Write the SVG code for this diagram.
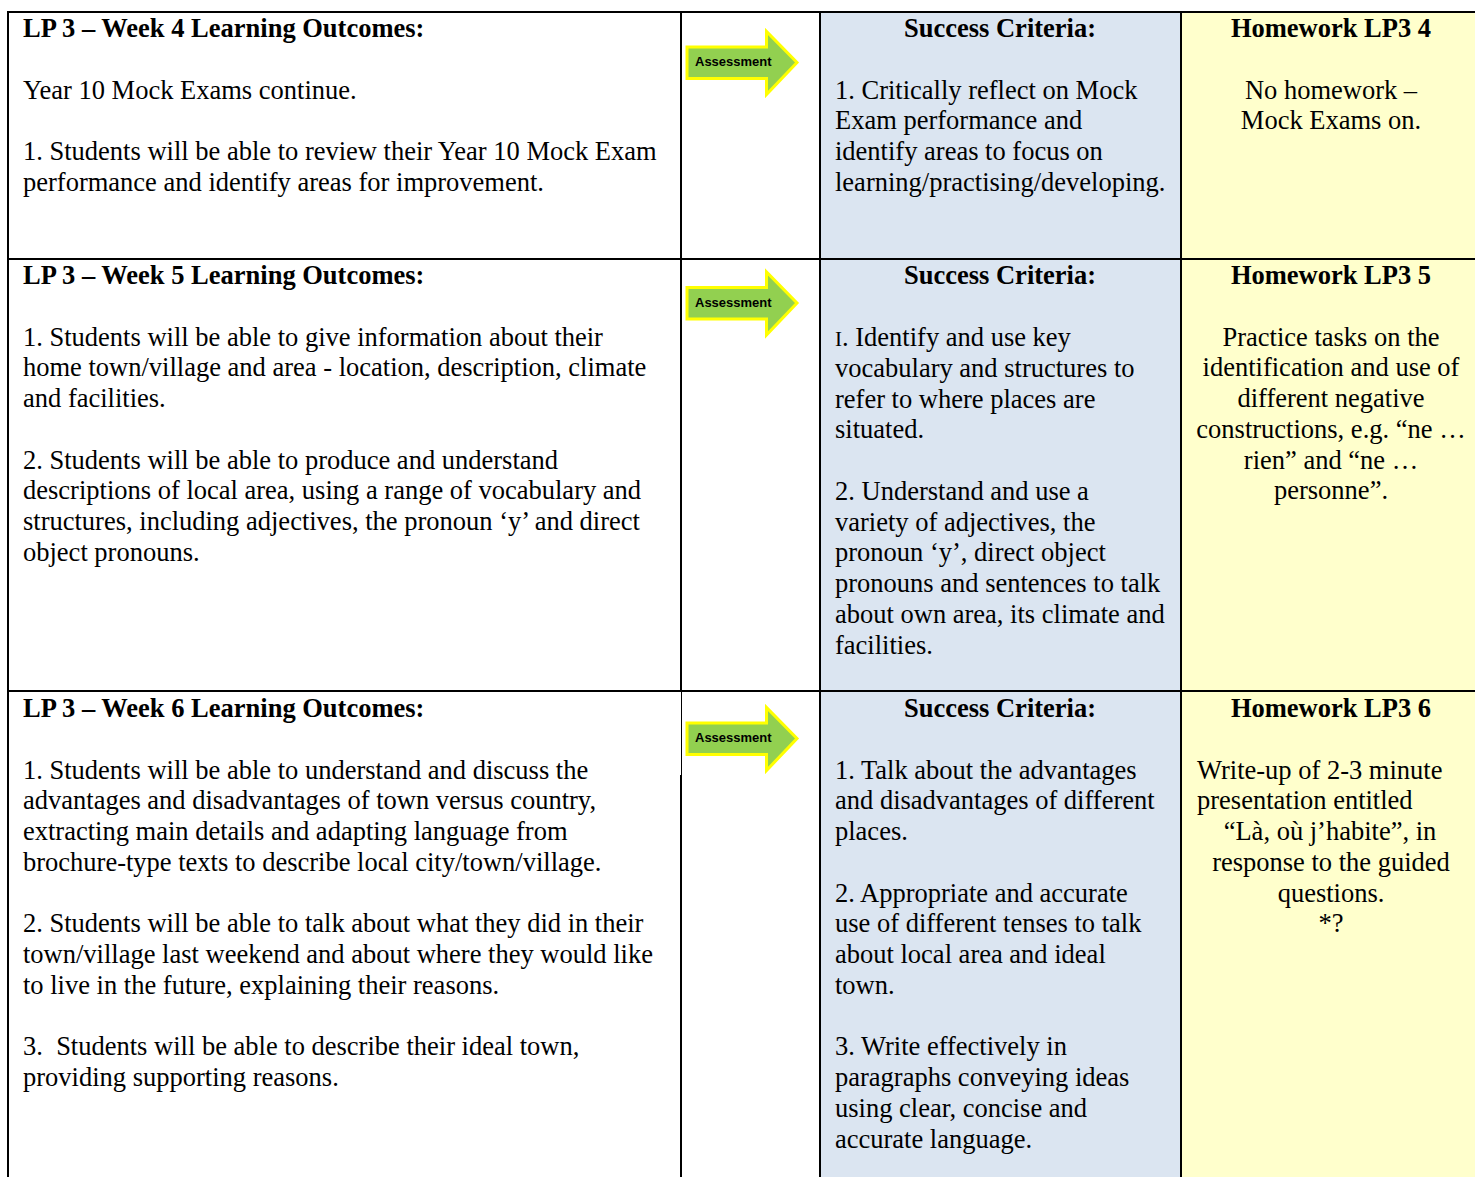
<svg xmlns="http://www.w3.org/2000/svg" xmlns:xlink="http://www.w3.org/1999/xlink" width="1475" height="1177" viewBox="0 0 1475 1177">
<style>
.t{font-family:"Liberation Serif","Times New Roman",serif;font-size:26.5px;fill:#000;white-space:pre}
.b{font-weight:bold}
.m{text-anchor:middle}
.ln{stroke:#000;stroke-width:2;fill:none}
.ln1{stroke:#000;stroke-width:1;fill:none}
.arw{fill:#92D050;stroke:#FFFF00;stroke-width:3;stroke-linejoin:miter}
.al{font-family:"Liberation Sans",Arial,sans-serif;font-size:13px;font-weight:bold;fill:#000}
</style>
<defs>
<path id="arrowShape" d="M-110,-15.5 L-30.5,-15.5 L-30.5,-31 L0,0 L-30.5,32 L-30.5,16 L-110,16 Z"/>
</defs>
<rect width="1475" height="1177" fill="#fff"/>
<g id="fills">
<rect x="820" y="12" width="361" height="1165" fill="#DBE5F1"/>
<rect x="1181" y="12" width="294" height="1165" fill="#FFFFCC"/>
</g>
<g id="grid">
<line class="ln" x1="7" y1="12" x2="1475" y2="12"/>
<line class="ln" x1="8" y1="11" x2="8" y2="1177"/>
<line class="ln" x1="681" y1="11" x2="681" y2="691"/>
<line class="ln1" x1="681.5" y1="691" x2="681.5" y2="775"/>
<line class="ln" x1="681" y1="775" x2="681" y2="1177"/>
<line class="ln" x1="820" y1="11" x2="820" y2="1177"/>
<line class="ln" x1="1181" y1="11" x2="1181" y2="1177"/>
<line class="ln" x1="7" y1="259" x2="1475" y2="259"/>
<line class="ln" x1="7" y1="691" x2="1475" y2="691"/>
</g>
<g id="connectors">
<g id="arrow-week4">
<use xlink:href="#arrowShape" href="#arrowShape" class="arw" transform="translate(797,62.5)"/>
<text class="al" x="695" y="66">Assessment</text>
</g>
<g id="arrow-week5">
<use xlink:href="#arrowShape" href="#arrowShape" class="arw" transform="translate(797,303)"/>
<text class="al" x="695" y="306.5">Assessment</text>
</g>
<g id="arrow-week6">
<use xlink:href="#arrowShape" href="#arrowShape" class="arw" transform="translate(797,738.5)"/>
<text class="al" x="695" y="742">Assessment</text>
</g>
</g>
<g id="week4-outcomes">
<text class="t b" x="23" y="37">LP 3 – Week 4 Learning Outcomes:</text>
<text class="t" x="23" y="98.5">Year 10 Mock Exams continue.</text>
<text class="t" x="23" y="160">1. Students will be able to review their Year 10 Mock Exam</text>
<text class="t" x="23" y="190.75">performance and identify areas for improvement.</text>
</g>
<g id="week4-criteria">
<text class="t b m" x="1000" y="37">Success Criteria:</text>
<text class="t" x="835" y="98.5">1. Critically reflect on Mock</text>
<text class="t" x="835" y="129.25">Exam performance and</text>
<text class="t" x="835" y="160">identify areas to focus on</text>
<text class="t" x="835" y="190.75">learning/practising/developing.</text>
</g>
<g id="week4-homework">
<text class="t b m" x="1331" y="37">Homework LP3 4</text>
<text class="t m" x="1331" y="98.5">No homework –</text>
<text class="t m" x="1331" y="129.25">Mock Exams on.</text>
</g>
<g id="week5-outcomes">
<text class="t b" x="23" y="284">LP 3 – Week 5 Learning Outcomes:</text>
<text class="t" x="23" y="345.5">1. Students will be able to give information about their</text>
<text class="t" x="23" y="376.25">home town/village and area - location, description, climate</text>
<text class="t" x="23" y="407">and facilities.</text>
<text class="t" x="23" y="468.5">2. Students will be able to produce and understand</text>
<text class="t" x="23" y="499.25">descriptions of local area, using a range of vocabulary and</text>
<text class="t" x="23" y="530">structures, including adjectives, the pronoun ‘y’ and direct</text>
<text class="t" x="23" y="560.75">object pronouns.</text>
</g>
<g id="week5-criteria">
<text class="t b m" x="1000" y="284">Success Criteria:</text>
<text class="t" x="835" y="346"><tspan font-size="21">I</tspan>. Identify and use key</text>
<text class="t" x="835" y="376.75">vocabulary and structures to</text>
<text class="t" x="835" y="407.5">refer to where places are</text>
<text class="t" x="835" y="438.25">situated.</text>
<text class="t" x="835" y="499.75">2. Understand and use a</text>
<text class="t" x="835" y="530.5">variety of adjectives, the</text>
<text class="t" x="835" y="561.25">pronoun ‘y’, direct object</text>
<text class="t" x="835" y="592">pronouns and sentences to talk</text>
<text class="t" x="835" y="622.75">about own area, its climate and</text>
<text class="t" x="835" y="653.5">facilities.</text>
</g>
<g id="week5-homework">
<text class="t b m" x="1331" y="284">Homework LP3 5</text>
<text class="t m" x="1331" y="345.5">Practice tasks on the</text>
<text class="t m" x="1331" y="376.25">identification and use of</text>
<text class="t m" x="1331" y="407">different negative</text>
<text class="t m" x="1331" y="437.75">constructions, e.g. “ne …</text>
<text class="t m" x="1331" y="468.5">rien” and “ne …</text>
<text class="t m" x="1331" y="499.25">personne”.</text>
</g>
<g id="week6-outcomes">
<text class="t b" x="23" y="717">LP 3 – Week 6 Learning Outcomes:</text>
<text class="t" x="23" y="778.5">1. Students will be able to understand and discuss the</text>
<text class="t" x="23" y="809.25">advantages and disadvantages of town versus country,</text>
<text class="t" x="23" y="840">extracting main details and adapting language from</text>
<text class="t" x="23" y="870.75">brochure-type texts to describe local city/town/village.</text>
<text class="t" x="23" y="932.25">2. Students will be able to talk about what they did in their</text>
<text class="t" x="23" y="963">town/village last weekend and about where they would like</text>
<text class="t" x="23" y="993.75">to live in the future, explaining their reasons.</text>
<text class="t" x="23" y="1055.25">3.  Students will be able to describe their ideal town,</text>
<text class="t" x="23" y="1086">providing supporting reasons.</text>
</g>
<g id="week6-criteria">
<text class="t b m" x="1000" y="717">Success Criteria:</text>
<text class="t" x="835" y="778.5">1. Talk about the advantages</text>
<text class="t" x="835" y="809.25">and disadvantages of different</text>
<text class="t" x="835" y="840">places.</text>
<text class="t" x="835" y="901.5">2. Appropriate and accurate</text>
<text class="t" x="835" y="932.25">use of different tenses to talk</text>
<text class="t" x="835" y="963">about local area and ideal</text>
<text class="t" x="835" y="993.75">town.</text>
<text class="t" x="835" y="1055.25">3. Write effectively in</text>
<text class="t" x="835" y="1086">paragraphs conveying ideas</text>
<text class="t" x="835" y="1116.75">using clear, concise and</text>
<text class="t" x="835" y="1147.5">accurate language.</text>
</g>
<g id="week6-homework">
<text class="t b m" x="1331" y="717">Homework LP3 6</text>
<text class="t" x="1197" y="778.5">Write-up of 2-3 minute</text>
<text class="t" x="1197" y="809.25">presentation entitled</text>
<text class="t m" x="1330" y="840">“Là, où j’habite”, in</text>
<text class="t m" x="1331" y="870.75">response to the guided</text>
<text class="t m" x="1331" y="901.5">questions.</text>
<text class="t m" x="1331" y="932.25">*?</text>
</g>
</svg>
